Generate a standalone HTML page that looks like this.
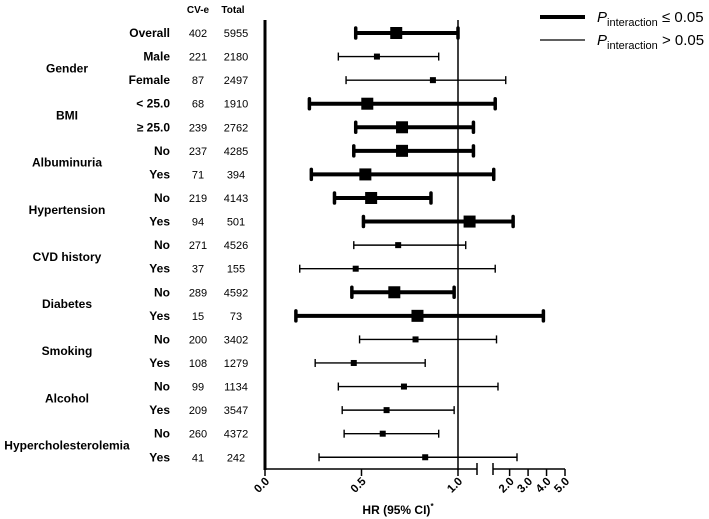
<!DOCTYPE html>
<html><head><meta charset="utf-8"><style>
body{margin:0;background:#fff;}
svg{display:block;font-family:"Liberation Sans",Arial,sans-serif;font-weight:bold;}
</style></head><body>
<svg id="c" width="709" height="519" viewBox="0 0 709 519">
<g id="legend">
 <line x1="540" y1="17" x2="585" y2="17" stroke="#000" stroke-width="4"/>
 <text x="597" y="22" font-size="15" font-weight="normal"><tspan font-style="italic">P</tspan><tspan font-size="11" dy="4">interaction</tspan><tspan dy="-4"> ≤ 0.05</tspan></text>
 <line x1="540" y1="40" x2="585" y2="40" stroke="#000" stroke-width="1.3"/>
 <text x="597" y="45" font-size="15" font-weight="normal"><tspan font-style="italic">P</tspan><tspan font-size="11" dy="4">interaction</tspan><tspan dy="-4"> &gt; 0.05</tspan></text>
</g>
<text x="198" y="13" font-size="10" text-anchor="middle">CV-e</text>
<text x="233" y="13" font-size="10" text-anchor="middle">Total</text>
</svg>
<script>
const subgroups=["Overall","Male","Female","< 25.0","\u2265 25.0","No","Yes","No","Yes","No","Yes","No","Yes","No","Yes","No","Yes","No","Yes"];
const cvEvents=[402,221,87,68,239,237,71,219,94,271,37,289,15,200,108,99,209,260,41];
const totals=[5955,2180,2497,1910,2762,4285,394,4143,501,4526,155,4592,73,3402,1279,1134,3547,4372,242];
const hr=[0.68,0.58,0.87,0.53,0.71,0.71,0.52,0.55,1.06,0.69,0.47,0.67,0.79,0.78,0.46,0.72,0.63,0.61,0.83];
const lower=[0.47,0.38,0.42,0.23,0.47,0.46,0.24,0.36,0.51,0.46,0.18,0.45,0.16,0.49,0.26,0.38,0.40,0.41,0.28];
const upper=[1.0,0.90,1.79,1.22,1.08,1.08,1.14,0.86,2.19,1.04,1.22,0.98,3.83,1.29,0.83,1.37,0.98,0.90,2.4];
const significant=[1,0,0,1,1,1,1,1,1,0,0,1,1,0,0,0,0,0,0];
const groups=["Gender","BMI","Albuminuria","Hypertension","CVD history","Diabetes","Smoking","Alcohol","Hypercholesterolemia"];
const groupRows=[[1,2],[3,4],[5,6],[7,8],[9,10],[11,12],[13,14],[15,16],[17,18]];
const ticks1=[0.0,0.5,1.0];
const ticks2=[2.0,3.0,4.0,5.0];
const NS="http://www.w3.org/2000/svg";
const svg=document.getElementById('c');
function x(v){return v<=1.1?265+193*v:493+(v-1.1)*(72/3.9);}
function y(i){return 33+i*23.57;}
function mk(t,a,p){const e=document.createElementNS(NS,t);for(const k in a)e.setAttribute(k,a[k]);(p||svg).appendChild(e);return e;}
let e;
e=mk('line',{x1:265,y1:20,x2:265,y2:470,stroke:'#000','stroke-width':3});


e=mk('line',{x1:x(1),y1:20,x2:x(1),y2:470,stroke:'#000','stroke-width':1.5});


e=mk('line',{x1:265,y1:469,x2:477,y2:469,stroke:'#000','stroke-width':1.5});


e=mk('line',{x1:493,y1:469,x2:565,y2:469,stroke:'#000','stroke-width':1.5});


[477,493].forEach(px=>{e=mk('line',{x1:px,y1:463,x2:px,y2:475,stroke:'#000','stroke-width':1.5});

});
ticks1.concat(ticks2).forEach(v=>{
 const px=x(v);
 e=mk('line',{x1:px,y1:469,x2:px,y2:476,stroke:'#000','stroke-width':1.5});
 
 
 e=mk('text',{x:px+5,y:482,'font-size':11.5,'text-anchor':'end',transform:`rotate(-45 ${px+5} 482)`});
 e.textContent=v.toFixed(1);
 
 
});
e=mk('text',{x:398,y:514,'font-size':12,'text-anchor':'middle'});
e.innerHTML='HR (95% CI)<tspan font-size="8" dy="-5">*</tspan>';


groups.forEach((g,k)=>{
 const r=groupRows[k];const yy=(y(r[0])+y(r[1]))/2+4;
 e=mk('text',{x:67,y:yy,'font-size':12,'text-anchor':'middle'});e.textContent=g;
 
 
});
subgroups.forEach((s,i)=>{
 const yy=y(i);
 e=mk('text',{x:170,y:yy+4,'font-size':12,'text-anchor':'end'});e.textContent=s;
 
 
 e=mk('text',{x:198,y:yy+4,'font-size':11,'font-weight':'normal','text-anchor':'middle'});e.textContent=cvEvents[i];
 
 
 e=mk('text',{x:236,y:yy+4,'font-size':11,'font-weight':'normal','text-anchor':'middle'});e.textContent=totals[i];
 
 
 const th=significant[i];const sw=th?4:1.4;const ch=th?5:4;const sq=th?12:6;
 const g=mk('g',{});
 
 
 e=mk('line',{x1:x(lower[i]),y1:yy,x2:x(upper[i]),y2:yy,stroke:'#000','stroke-width':sw},g);
 
 
 [lower[i],upper[i]].forEach(v=>{e=mk('line',{x1:x(v),y1:yy-ch,x2:x(v),y2:yy+ch,stroke:'#000','stroke-width':th?3.5:1.4,'stroke-linecap':th?'round':'butt'},g);
 
 });
 e=mk('rect',{x:x(hr[i])-sq/2,y:yy-sq/2,width:sq,height:sq,fill:'#000'},g);
 
 
});
</script>
</body></html>
